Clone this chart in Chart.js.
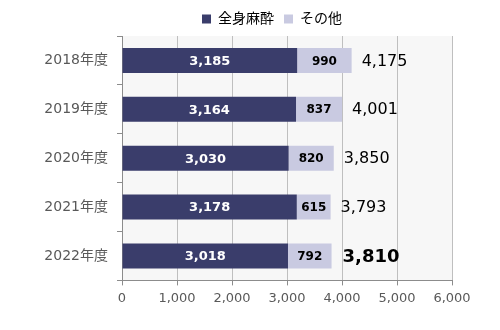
<!DOCTYPE html>
<html>
<head>
<meta charset="utf-8">
<script src="https://cdn.jsdelivr.net/npm/chart.js@4/dist/chart.umd.min.js"></script>
<style>
  html, body { margin: 0; padding: 0; background: #fff; }
  #wrap { width: 500px; height: 330px; }
</style>
</head>
<body>
<div id="wrap"><canvas id="chart" width="500" height="330"></canvas></div>
<script>
// Chart data
const years = ['2018年度', '2019年度', '2020年度', '2021年度', '2022年度'];
const generalAnesthesia = [3185, 3164, 3030, 3178, 3018];
const others = [990, 837, 820, 615, 792];
const totals = [4175, 4001, 3850, 3793, 3810];
const xTicks = [0, 1000, 2000, 3000, 4000, 5000, 6000];

const FONT = '"DejaVu Sans", Verdana, "Noto Sans CJK JP", sans-serif';
const DARK = '#3a3d6b';
const LIGHT = '#c9cae1';

// Gray plot background
const plotBackground = {
    id: 'plotBackground',
    beforeDraw(chart) {
        const { ctx, chartArea: a } = chart;
        ctx.save();
        ctx.fillStyle = '#f7f7f7';
        ctx.fillRect(a.left, a.top, a.right - a.left, a.bottom - a.top);
        ctx.restore();
    }
};

// Move the legend a bit to the right, over the plot
const legendShift = {
    id: 'legendShift',
    afterLayout(chart) {
        chart.legend.left += 46;
        chart.legend.right += 46;
    }
};

// Segment values and totals beside the bars
const barLabels = {
    id: 'barLabels',
    afterDatasetsDraw(chart) {
        const { ctx } = chart;
        ctx.save();
        ctx.textBaseline = 'middle';
        chart.data.datasets.forEach((ds, i) => {
            chart.getDatasetMeta(i).data.forEach((bar, j) => {
                const cx = (bar.x + bar.base) / 2;
                ctx.textAlign = 'center';
                ctx.fillStyle = i === 0 ? '#ffffff' : '#000000';
                ctx.font = 'bold ' + (i === 0 ? 13 : 12) + 'px ' + FONT;
                ctx.fillText(ds.data[j].toLocaleString('en-US'), cx, bar.y + 1);
            });
        });
        const xScale = chart.scales.x;
        const meta = chart.getDatasetMeta(1);
        totals.forEach((t, j) => {
            const last = j === totals.length - 1;
            ctx.textAlign = 'left';
            ctx.fillStyle = '#000000';
            ctx.font = (last ? 'bold 18px ' : '16px ') + FONT;
            ctx.fillText(t.toLocaleString('en-US'), xScale.getPixelForValue(t) + (last ? 11 : 10), meta.data[j].y + 1);
        });
        ctx.restore();
    }
};

new Chart(document.getElementById('chart'), {
    type: 'bar',
    data: {
        labels: years,
        datasets: [
            {
                label: '全身麻酔',
                data: generalAnesthesia,
                backgroundColor: DARK,
                categoryPercentage: 1.0,
                barPercentage: 0.51
            },
            {
                label: 'その他',
                data: others,
                backgroundColor: LIGHT,
                categoryPercentage: 1.0,
                barPercentage: 0.51
            }
        ]
    },
    options: {
        indexAxis: 'y',
        responsive: false,
        animation: false,
        layout: { padding: { left: 0, right: 48, top: 2, bottom: 19 } },
        plugins: {
            legend: {
                display: true,
                position: 'top',
                labels: {
                    boxWidth: 9,
                    boxHeight: 9,
                    padding: 10,
                    color: '#000000',
                    font: { family: FONT, size: 14 }
                }
            },
            tooltip: { enabled: false }
        },
        scales: {
            x: {
                stacked: true,
                min: 0,
                max: 6000,
                afterBuildTicks(scale) {
                    scale.ticks = xTicks.map(v => ({ value: v }));
                },
                ticks: {
                    color: '#595959',
                    padding: 5,
                    font: { family: FONT, size: 13 },
                    callback: v => v.toLocaleString('en-US')
                },
                grid: {
                    color: '#bfbfbf',
                    tickColor: '#8c8c8c',
                    tickLength: 5
                },
                border: { color: '#8c8c8c' }
            },
            y: {
                stacked: true,
                afterFit(scale) { scale.width = 122; },
                ticks: {
                    color: '#595959',
                    padding: 9,
                    font: { family: FONT, size: 14 }
                },
                grid: {
                    offset: true,
                    drawOnChartArea: false,
                    tickColor: '#8c8c8c',
                    tickLength: 5
                },
                border: { color: '#8c8c8c' }
            }
        }
    },
    plugins: [plotBackground, legendShift, barLabels]
});
</script>
</body>
</html>
